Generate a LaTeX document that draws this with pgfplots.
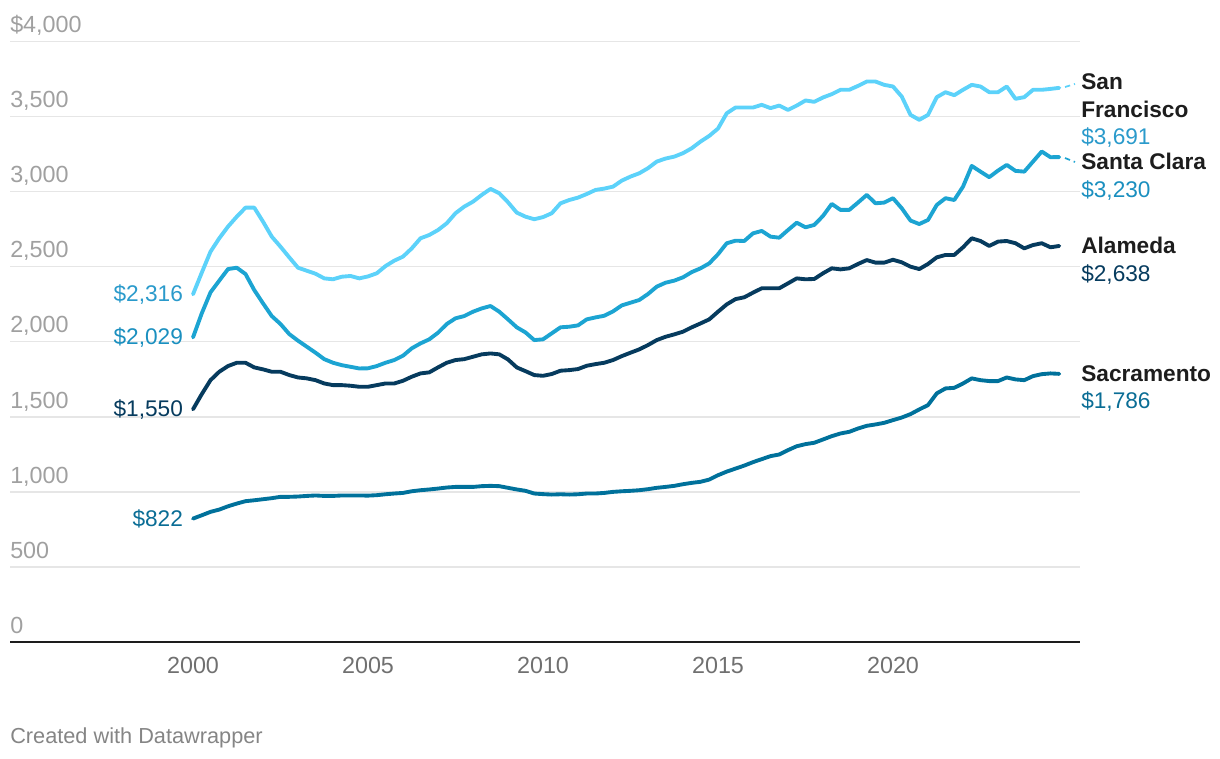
\documentclass[border=0pt]{standalone}
\usepackage{pgfplots}
\pgfplotsset{compat=1.18}
\usepackage{pgfplotstable}
\usepackage{fontspec}
\setmainfont{Liberation Sans}

\definecolor{cSF}{HTML}{5CD2FA}
\definecolor{cSC}{HTML}{1CA4D2}
\definecolor{cAL}{HTML}{063B5E}
\definecolor{cSA}{HTML}{00719B}
\definecolor{tSF}{HTML}{2A9ACB}
\definecolor{tSC}{HTML}{1A8FBF}
\definecolor{tSA}{HTML}{0A6D95}
\definecolor{gridc}{HTML}{E6E6E6}
\definecolor{ylab}{HTML}{A0A0A0}
\definecolor{xlab}{HTML}{707070}
\definecolor{ink}{HTML}{1D1D1D}

\newcommand\lblfont{\fontsize{17}{20}\selectfont}
\newcommand\tickfont{\fontsize{17.5}{21}\selectfont}

% quarterly rents, 2000 Q1 .. 2024 Q4
\pgfplotstableread{
t       sf   sc   al   sa
2000.00 2316 2029 1550 822
2000.25 2460 2189 1651 844
2000.50 2600 2329 1744 867
2000.75 2689 2407 1800 882
2001.00 2767 2484 1838 904
2001.25 2833 2493 1860 922
2001.50 2893 2451 1860 938
2001.75 2893 2344 1829 944
2002.00 2800 2256 1816 951
2002.25 2700 2171 1800 958
2002.50 2633 2118 1800 967
2002.75 2562 2051 1778 967
2003.00 2493 2007 1762 969
2003.25 2473 1967 1756 973
2003.50 2453 1927 1744 976
2003.75 2422 1884 1722 973
2004.00 2416 1860 1711 973
2004.25 2433 1844 1711 976
2004.50 2438 1833 1707 976
2004.75 2422 1822 1700 976
2005.00 2435 1823 1700 975
2005.25 2456 1838 1711 978
2005.50 2504 1860 1722 984
2005.75 2540 1878 1722 989
2006.00 2567 1907 1740 993
2006.25 2622 1956 1767 1004
2006.50 2689 1989 1789 1011
2006.75 2711 2016 1796 1016
2007.00 2744 2060 1829 1022
2007.25 2789 2118 1860 1029
2007.50 2856 2156 1878 1033
2007.75 2900 2171 1884 1033
2008.00 2933 2200 1900 1033
2008.25 2978 2222 1916 1038
2008.50 3018 2238 1922 1040
2008.75 2989 2200 1916 1038
2009.00 2929 2149 1882 1027
2009.25 2860 2096 1829 1016
2009.50 2833 2062 1804 1007
2009.75 2816 2011 1778 989
2010.00 2830 2016 1773 985
2010.25 2856 2056 1785 982
2010.50 2922 2096 1807 984
2010.75 2944 2100 1811 982
2011.00 2960 2109 1818 984
2011.25 2984 2149 1840 989
2011.50 3011 2162 1851 989
2011.75 3020 2173 1860 993
2012.00 3033 2202 1878 1000
2012.25 3073 2242 1904 1004
2012.50 3100 2260 1927 1007
2012.75 3122 2278 1949 1011
2013.00 3156 2318 1978 1018
2013.25 3200 2367 2011 1027
2013.50 3220 2393 2033 1033
2013.75 3233 2407 2049 1040
2014.00 3256 2429 2067 1051
2014.25 3289 2464 2096 1060
2014.50 3333 2489 2122 1067
2014.75 3371 2522 2149 1082
2015.00 3420 2583 2200 1111
2015.25 3522 2656 2249 1135
2015.50 3560 2673 2284 1155
2015.75 3560 2671 2296 1175
2016.00 3560 2722 2327 1198
2016.25 3578 2738 2356 1218
2016.50 3556 2700 2356 1238
2016.75 3573 2693 2356 1249
2017.00 3544 2744 2389 1278
2017.25 3573 2793 2422 1304
2017.50 3607 2762 2416 1318
2017.75 3598 2778 2418 1327
2018.00 3627 2838 2456 1349
2018.25 3649 2918 2489 1371
2018.50 3678 2878 2482 1389
2018.75 3678 2878 2489 1400
2019.00 3704 2927 2518 1422
2019.25 3733 2978 2544 1440
2019.50 3733 2922 2527 1449
2019.75 3711 2927 2527 1460
2020.00 3700 2956 2546 1478
2020.25 3633 2889 2529 1495
2020.50 3511 2807 2500 1518
2020.75 3478 2784 2484 1549
2021.00 3511 2811 2518 1578
2021.25 3629 2911 2562 1656
2021.50 3662 2956 2578 1689
2021.75 3642 2944 2578 1693
2022.00 3678 3033 2629 1722
2022.25 3711 3171 2689 1756
2022.50 3700 3133 2671 1744
2022.75 3662 3096 2638 1738
2023.00 3662 3140 2667 1738
2023.25 3700 3178 2671 1762
2023.50 3618 3138 2656 1749
2023.75 3629 3133 2622 1744
2024.00 3678 3200 2644 1771
2024.25 3678 3267 2656 1784
2024.50 3684 3229 2629 1789
2024.75 3691 3230 2638 1786
}\rents

\begin{document}
\begin{tikzpicture}
\path[use as bounding box] (0pt,0pt) rectangle (915pt,568.5pt);
\begin{axis}[
    at={(7.5pt,87pt)}, anchor=south west,
    scale only axis,
    width=802.5pt, height=450.4pt,
    xmin=1994.771, xmax=2025.343,
    ymin=0, ymax=4000,
    clip=false,
    axis line style={draw=none},
    major tick length=0pt,
    xtick={2000,2005,2010,2015,2020},
    xticklabels={2000,2005,2010,2015,2020},
    ytick={0,500,...,4000},
    yticklabels={0,500,{1,000},{1,500},{2,000},{2,500},{3,000},{3,500},{\$4,000}},
    ymajorgrids,
    grid style={gridc, line width=1.1pt},
    xticklabel style={font=\tickfont, text=xlab, anchor=north, inner sep=0pt, yshift=-11.3pt},
    yticklabel style={font=\tickfont, text=ylab, anchor=base west, inner sep=0pt, yshift=6.6pt},
    every axis plot/.append style={line width=2.9pt, line join=round, line cap=round, no markers},
  ]
  \draw[ink, line width=1.9pt] (rel axis cs:0,0) -- (rel axis cs:1,0);
  \addplot[cSA] table[x=t, y=sa] {\rents};
  \addplot[cAL] table[x=t, y=al] {\rents};
  \addplot[cSC] table[x=t, y=sc] {\rents};
  \addplot[cSF] table[x=t, y=sf] {\rents};

  % start values
  \begin{scope}[every node/.style={anchor=east, inner sep=0pt, font=\lblfont}]
    \node[text=tSF] at (axis cs:1999.72,2316) {\$2,316};
    \node[text=tSC] at (axis cs:1999.72,2029) {\$2,029};
    \node[text=cAL] at (axis cs:1999.72,1550) {\$1,550};
    \node[text=tSA] at (axis cs:1999.72,822) {\$822};
  \end{scope}
\end{axis}

\begin{scope}[x=0.75pt, y=0.75pt]
% connectors to shifted labels
\draw[cSF, line width=1.3pt, dash pattern=on 4pt off 3pt] (1065,671) -- (1075,674);
\draw[cSC, line width=1.3pt, dash pattern=on 4pt off 3pt] (1065,600) -- (1075,596);

% end labels
\begin{scope}[every node/.style={anchor=base west, inner sep=0pt, font=\lblfont}]
  \node[text=ink, font=\lblfont\bfseries] at (1081,668) {San};
  \node[text=ink, font=\lblfont\bfseries] at (1081,640.5) {Francisco};
  \node[text=tSF] at (1081,613) {\$3,691};
  \node[text=ink, font=\lblfont\bfseries] at (1081,588) {Santa Clara};
  \node[text=tSC] at (1081,560.5) {\$3,230};
  \node[text=ink, font=\lblfont\bfseries] at (1081,504) {Alameda};
  \node[text=cAL] at (1081,476.5) {\$2,638};
  \node[text=ink, font=\lblfont\bfseries] at (1081,376.5) {Sacramento};
  \node[text=tSA] at (1081,350) {\$1,786};
\end{scope}

\node[anchor=base west, inner sep=0pt, text=xlab!85, font=\fontsize{16.3}{19}\selectfont] at (10,15) {Created with Datawrapper};
\end{scope}
\end{tikzpicture}
\end{document}
